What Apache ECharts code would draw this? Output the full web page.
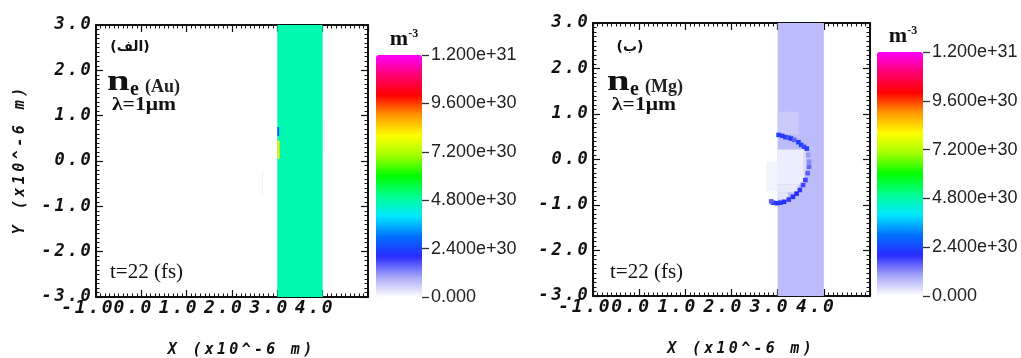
<!DOCTYPE html>
<html>
<head>
<meta charset="utf-8">
<script src="https://cdn.jsdelivr.net/npm/echarts@6/dist/echarts.min.js"></script>
<style>
  html, body { margin: 0; background: #fff; }
  #chart { width: 1021px; height: 358px; }
</style>
</head>
<body>
<div id="chart"></div>
<script>
// Electron density n_e at t = 22 fs, two targets (Au | Mg), lambda = 1 um.
// density values are in units of 1e30 m^-3

const X_RANGE = [-1, 5];          // x10^-6 m
const Y_RANGE = [-3, 3];          // x10^-6 m
const X_UNLABELLED = [5];         // last tick has no label in the original
const CBAR_MAX = 12;              // 1.2e31
const CBAR_STEP = 2.4;
const CBAR_LABELS = ['0.000', '2.400e+30', '4.800e+30', '7.200e+30', '9.600e+30', '1.200e+31'];

// rects: [x0, x1, y0, y1, density]
const AU_BAND = [[3.0, 4.0, -3.0, 3.0, 4.7]];
const AU_SPOTS = [
  [3.0, 3.05, 0.05, 0.45, 8.2],
  [3.0, 3.04, 0.55, 0.75, 2.6],
  [2.66, 2.69, -0.75, -0.25, 0.15],
  [4.02, 4.05, 0.2, 0.9, 0.12],
];

const MG_BAND = [[3.0, 4.0, -3.0, 3.0, 0.75]];
const MG_HAZE = [
  [2.75, 3.0, -0.7, -0.05, 0.12],
  [3.0, 3.45, 0.55, 1.05, 0.6],
];
const MG_CAVITY = [
  [3.0, 3.58, -0.55, 0.22, 0.2],
  [3.0, 3.45, -0.72, -0.55, 0.25],
  [3.0, 3.22, -0.88, -0.72, 0.3],
  [3.55, 3.62, -0.3, 0.18, 0.4],
];
// dark shock front: [x, y, density]
const MG_ARC = [
  [3.02, 0.54, 2.3], [3.10, 0.52, 1.9], [3.17, 0.49, 2.4], [3.24, 0.48, 1.7],
  [3.29, 0.46, 2.3], [3.36, 0.43, 1.6], [3.45, 0.38, 2.3], [3.51, 0.32, 2.4],
  [3.57, 0.28, 1.8], [3.63, 0.24, 2.3], [3.66, 0.10, 1.1], [3.68, -0.05, 1.2],
  [3.68, -0.16, 1.5], [3.65, -0.30, 1.6], [3.60, -0.45, 1.8], [3.55, -0.56, 1.8],
  [3.48, -0.67, 1.9], [3.41, -0.75, 2.0], [3.33, -0.82, 2.1], [3.24, -0.88, 1.9],
  [3.14, -0.93, 2.1], [3.06, -0.95, 2.2], [2.98, -0.96, 2.2], [2.90, -0.95, 1.9],
  [2.86, -0.92, 1.6],
];
const ARC_CELL = 0.1;

const RAMP = ['#ffffff', '#a6a6f8', '#2a2aff', '#0070ff', '#00e8ff', '#00ff90',
              '#00ff00', '#a0ff00', '#ffff00', '#ff9800', '#ff0000', '#ff0070', '#ff00ff'];

const INK = '#111';
const MONO = '"DejaVu Sans Mono", monospace';
const SERIF = '"Liberation Serif", "DejaVu Serif", serif';

// IDL style axis text: wide fixed pitch
function spaced(s, key) {
  return s.split('').map(ch => `{${key}|${ch === ' ' ? '\u00a0' : ch}}`).join('');
}
const cellRich = (w, size) => ({
  width: w, align: 'center', fontFamily: MONO, fontWeight: 'bold',
  fontStyle: 'italic', fontSize: size, color: INK,
});

const cells = pts => pts.map(([x, y, v]) =>
  [x - ARC_CELL / 2, x + ARC_CELL / 2, y - ARC_CELL / 2, y + ARC_CELL / 2, v]);

function renderRect(params, api) {
  const p0 = api.coord([api.value(0), api.value(3)]);
  const p1 = api.coord([api.value(1), api.value(2)]);
  return {
    type: 'rect',
    shape: { x: p0[0], y: p0[1], width: p1[0] - p0[0], height: p1[1] - p0[1] },
    style: { fill: api.visual('color') },
  };
}

const PANELS = [
  { plot: { left: 96, top: 25, width: 272, height: 272 },
    cbar: { left: 376, top: 55, width: 46, height: 242 },
    data: [...AU_BAND, ...AU_SPOTS], yName: true },
  { plot: { left: 593, top: 23, width: 277, height: 273 },
    cbar: { left: 877, top: 52, width: 46, height: 244 },
    data: [...MG_BAND, ...MG_HAZE, ...MG_CAVITY, ...cells(MG_ARC)], yName: false },
];

const grid = [], xAxis = [], yAxis = [], series = [], visualMap = [];

const frameLine = { show: true, onZero: false, lineStyle: { color: INK, width: 2 } };
const tick = { show: true, inside: true, length: 7, lineStyle: { color: INK, width: 1.2 } };
const minor = { show: true, splitNumber: 10, length: 3.5, lineStyle: { color: INK, width: 1 } };

PANELS.forEach((p, i) => {
  const g = grid.length;
  const xi = xAxis.length, yi = yAxis.length;
  grid.push({ ...p.plot, outerBoundsMode: 'none' }, { ...p.cbar, outerBoundsMode: 'none' });

  const xBase = { type: 'value', gridIndex: g, min: X_RANGE[0], max: X_RANGE[1], interval: 1,
                  axisLine: frameLine, axisTick: tick, minorTick: minor, splitLine: { show: false } };
  const yBase = { type: 'value', gridIndex: g, min: Y_RANGE[0], max: Y_RANGE[1], interval: 1,
                  axisLine: frameLine, axisTick: tick, minorTick: minor, splitLine: { show: false } };

  xAxis.push({
    ...xBase, position: 'bottom',
    name: spaced('X (x10^-6 m)', 'n'), nameLocation: 'middle', nameGap: 46,
    nameTextStyle: { padding: [0, 0, 0, 16], rich: { n: cellRich(12.3, 15) } },
    axisLabel: {
      margin: 2, padding: [0, 18, 0, 0],
      formatter: v => X_UNLABELLED.includes(v) ? '' : spaced(v.toFixed(1), 'c'),
      rich: { c: cellRich(13.5, 18) },
    },
  });
  xAxis.push({ ...xBase, position: 'top', axisLabel: { show: false } });
  yAxis.push({
    ...yBase, position: 'left',
    name: p.yName ? spaced('Y (x10^-6 m)', 'n') : '', nameLocation: 'middle', nameGap: 68,
    nameRotate: 90,
    nameTextStyle: { rich: { n: cellRich(12.5, 15) } },
    axisLabel: { margin: 4, formatter: v => spaced(v.toFixed(1), 'c'), rich: { c: cellRich(13, 17) } },
  });
  yAxis.push({ ...yBase, position: 'right', axisLabel: { show: false } });

  // colour bar tick labels
  xAxis.push({ type: 'value', gridIndex: g + 1, show: false, min: 0, max: 1 });
  yAxis.push({
    type: 'value', gridIndex: g + 1, position: 'right', min: 0, max: CBAR_MAX, interval: CBAR_STEP,
    axisLine: { show: false, onZero: false }, splitLine: { show: false },
    axisTick: { show: true, inside: false, length: 7, lineStyle: { color: '#333', width: 1.3 } },
    axisLabel: {
      margin: 9, color: '#222', fontSize: 18, fontFamily: '"Liberation Sans", Arial, sans-serif',
      formatter: (v, idx) => CBAR_LABELS[idx],
    },
  });

  series.push({
    type: 'custom', xAxisIndex: xi, yAxisIndex: yi,
    renderItem: renderRect, clip: true, silent: true,
    encode: { x: [0, 1], y: [2, 3] },
    data: p.data,
  });

  visualMap.push({
    type: 'continuous', seriesIndex: i, dimension: 4, min: 0, max: CBAR_MAX,
    calculable: false, realtime: false, hoverLink: false,
    left: p.cbar.left, top: p.cbar.top, itemWidth: p.cbar.width, itemHeight: p.cbar.height,
    padding: 0, showLabel: false,
    inRange: { color: RAMP },
  });
});

// panel annotations
function annot(dx, letter, target) {
  return [
    { type: 'text', x: 130 + dx, y: 47, style: { text: letter, font: 'bold 14px "DejaVu Sans", sans-serif',
      fill: INK, align: 'center', verticalAlign: 'middle' } },
    { type: 'text', x: 107 + dx, y: 97, scaleX: 1.4, style: { text: 'n', font: `bold 29px ${SERIF}`,
      fill: INK, verticalAlign: 'bottom' } },
    { type: 'text', x: 130 + dx, y: 100, style: { text: 'e', font: `bold 20px ${SERIF}`,
      fill: INK, verticalAlign: 'bottom' } },
    { type: 'text', x: 145 + dx, y: 96, style: { text: target, font: `bold 18px ${SERIF}`,
      fill: '#222', verticalAlign: 'bottom' } },
    { type: 'text', x: 112 + dx, y: 105, scaleX: 1.2, style: { text: 'λ=1μm', font: `bold 18px ${SERIF}`,
      fill: INK, verticalAlign: 'middle' } },
    { type: 'text', x: 110 + dx, y: 272, style: { text: 't=22 (fs)', font: `21px ${SERIF}`,
      fill: INK, verticalAlign: 'middle' } },
  ];
}
function unitLabel(cx, y) {
  return { type: 'text', x: cx, y, style: {
    text: '{m|m}{s|-3}', align: 'center', verticalAlign: 'bottom',
    rich: { m: { font: `bold 22px ${SERIF}`, fill: INK }, s: { font: `bold 12px ${SERIF}`, fill: INK, verticalAlign: 'top', padding: [0, 0, 10, 0] } },
  } };
}

const chart = echarts.init(document.getElementById('chart'), null, { renderer: 'canvas' });
chart.setOption({
  animation: false,
  backgroundColor: '#fff',
  grid, xAxis, yAxis, series, visualMap,
  graphic: [
    ...annot(0, '(الف)', '(Au)'),
    ...annot(500, '(ب)', '(Mg)'),
    unitLabel(404, 50),
    unitLabel(903, 47),
  ],
});
</script>
</body>
</html>
